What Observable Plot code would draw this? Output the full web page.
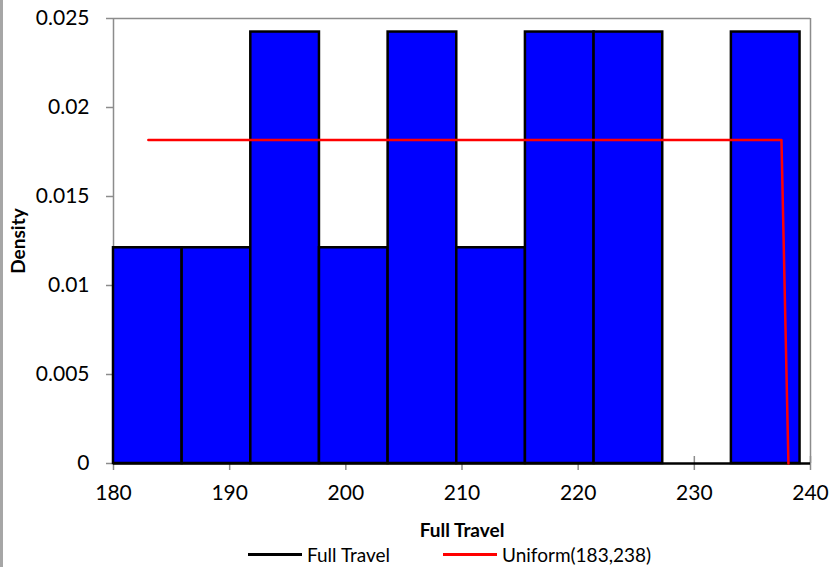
<!DOCTYPE html>
<html><head><meta charset="utf-8">
<script src="https://cdn.jsdelivr.net/npm/d3@7"></script>
<script src="https://cdn.jsdelivr.net/npm/@observablehq/plot@0.6"></script>
<style>
body{margin:0;background:#fff;font-family:Lato,sans-serif;}
#wrap{position:relative;width:830px;height:567px;overflow:hidden;background:#fff}
#border{position:absolute;left:0;top:0;width:3px;height:567px;background:#a6a6a6}
#legend{position:absolute;left:0;top:541px;width:830px;height:26px;font-size:19px;color:#000}
.item{position:absolute;top:0;height:26px;display:flex;align-items:center;white-space:nowrap}
.sw{width:54px;height:0;border-top:3px solid;margin-right:5px}
</style></head>
<body><div id="wrap"><div id="chart"></div><div id="border"></div><div id="legend"></div></div>
<script>
// Histogram of "Full Travel" (bin edges and densities)
const binEdges = [180, 185.91, 191.82, 197.73, 203.64, 209.55, 215.46, 221.37, 227.28, 233.19, 239.1];
const density  = [0.01212, 0.01212, 0.02424, 0.01212, 0.02424, 0.01212, 0.02424, 0.02424, 0, 0.02424];
// Uniform(183,238) fitted density curve
const uniformX = [183, 237.5, 238.1];
const uniformY = [0.01818, 0.01818, 0];
// Axis ticks
const xTicks = [180, 190, 200, 210, 220, 230, 240];
const yTicks = [0, 0.005, 0.01, 0.015, 0.02, 0.025];
// Legend
const legendLabels = ["Full Travel", "Uniform(183,238)"];
const legendColors = ["#000000", "#ff0000"];
const legendLeft = [248, 443];

const bins = density.map((d, i) => ({x1: binEdges[i], x2: binEdges[i + 1], density: d}));
const uniform = uniformX.map((x, i) => ({x, y: uniformY[i]}));
const gray = "#8c8c8c";

const chart = Plot.plot({
  width: 830,
  height: 541,
  marginLeft: 113,
  marginRight: 20,
  marginTop: 18,
  marginBottom: 78,
  style: {fontFamily: "Lato, sans-serif", fontSize: "21px", color: "#000", background: "transparent"},
  x: {domain: [180, 240]},
  y: {domain: [0, 0.025]},
  marks: [
    Plot.ruleY([0.025], {stroke: gray, strokeWidth: 1.5}),
    Plot.ruleX([240], {stroke: gray, strokeWidth: 1.5}),
    Plot.ruleX([180], {stroke: gray, strokeWidth: 1.5}),
    Plot.axisX({ticks: xTicks, tickSize: 14, dy: -7, tickFormat: () => "", label: null, stroke: gray, strokeWidth: 1.5}),
    Plot.axisX({ticks: xTicks, tickSize: 0, tickPadding: 22, tickFormat: d => String(d), label: null, fill: "#000", fontSize: 21}),
    Plot.axisY({ticks: yTicks, tickSize: 7, tickPadding: 17, tickFormat: d => String(+d.toFixed(3)), label: null, stroke: gray, strokeWidth: 1.5, fill: "#000", fontSize: 21}),
    Plot.rectY(bins, {x1: "x1", x2: "x2", y: "density", fill: "#0000ff", stroke: "#000", strokeWidth: 2.5}),
    Plot.ruleY([0], {stroke: "#000", strokeWidth: 2.5}),
    Plot.line(uniform, {x: "x", y: "y", stroke: "#ff0000", strokeWidth: 2.5}),
    Plot.text(["Density"], {text: d => d, frameAnchor: "left", textAnchor: "middle", lineAnchor: "middle", rotate: -90, dx: -95, fontWeight: "bold", fontSize: 19, fill: "#000"}),
    Plot.text(["Full Travel"], {text: d => d, frameAnchor: "bottom", textAnchor: "middle", lineAnchor: "middle", dy: 67, fontWeight: "bold", fontSize: 19, fill: "#000"})
  ]
});
document.getElementById("chart").appendChild(chart);

const legend = document.getElementById("legend");
legendLabels.forEach((lab, i) => {
  const it = document.createElement("div");
  it.className = "item";
  it.style.left = legendLeft[i] + "px";
  const sw = document.createElement("span");
  sw.className = "sw";
  sw.style.borderTopColor = legendColors[i];
  const tx = document.createElement("span");
  tx.textContent = lab;
  it.appendChild(sw); it.appendChild(tx);
  legend.appendChild(it);
});
</script>
</body></html>
